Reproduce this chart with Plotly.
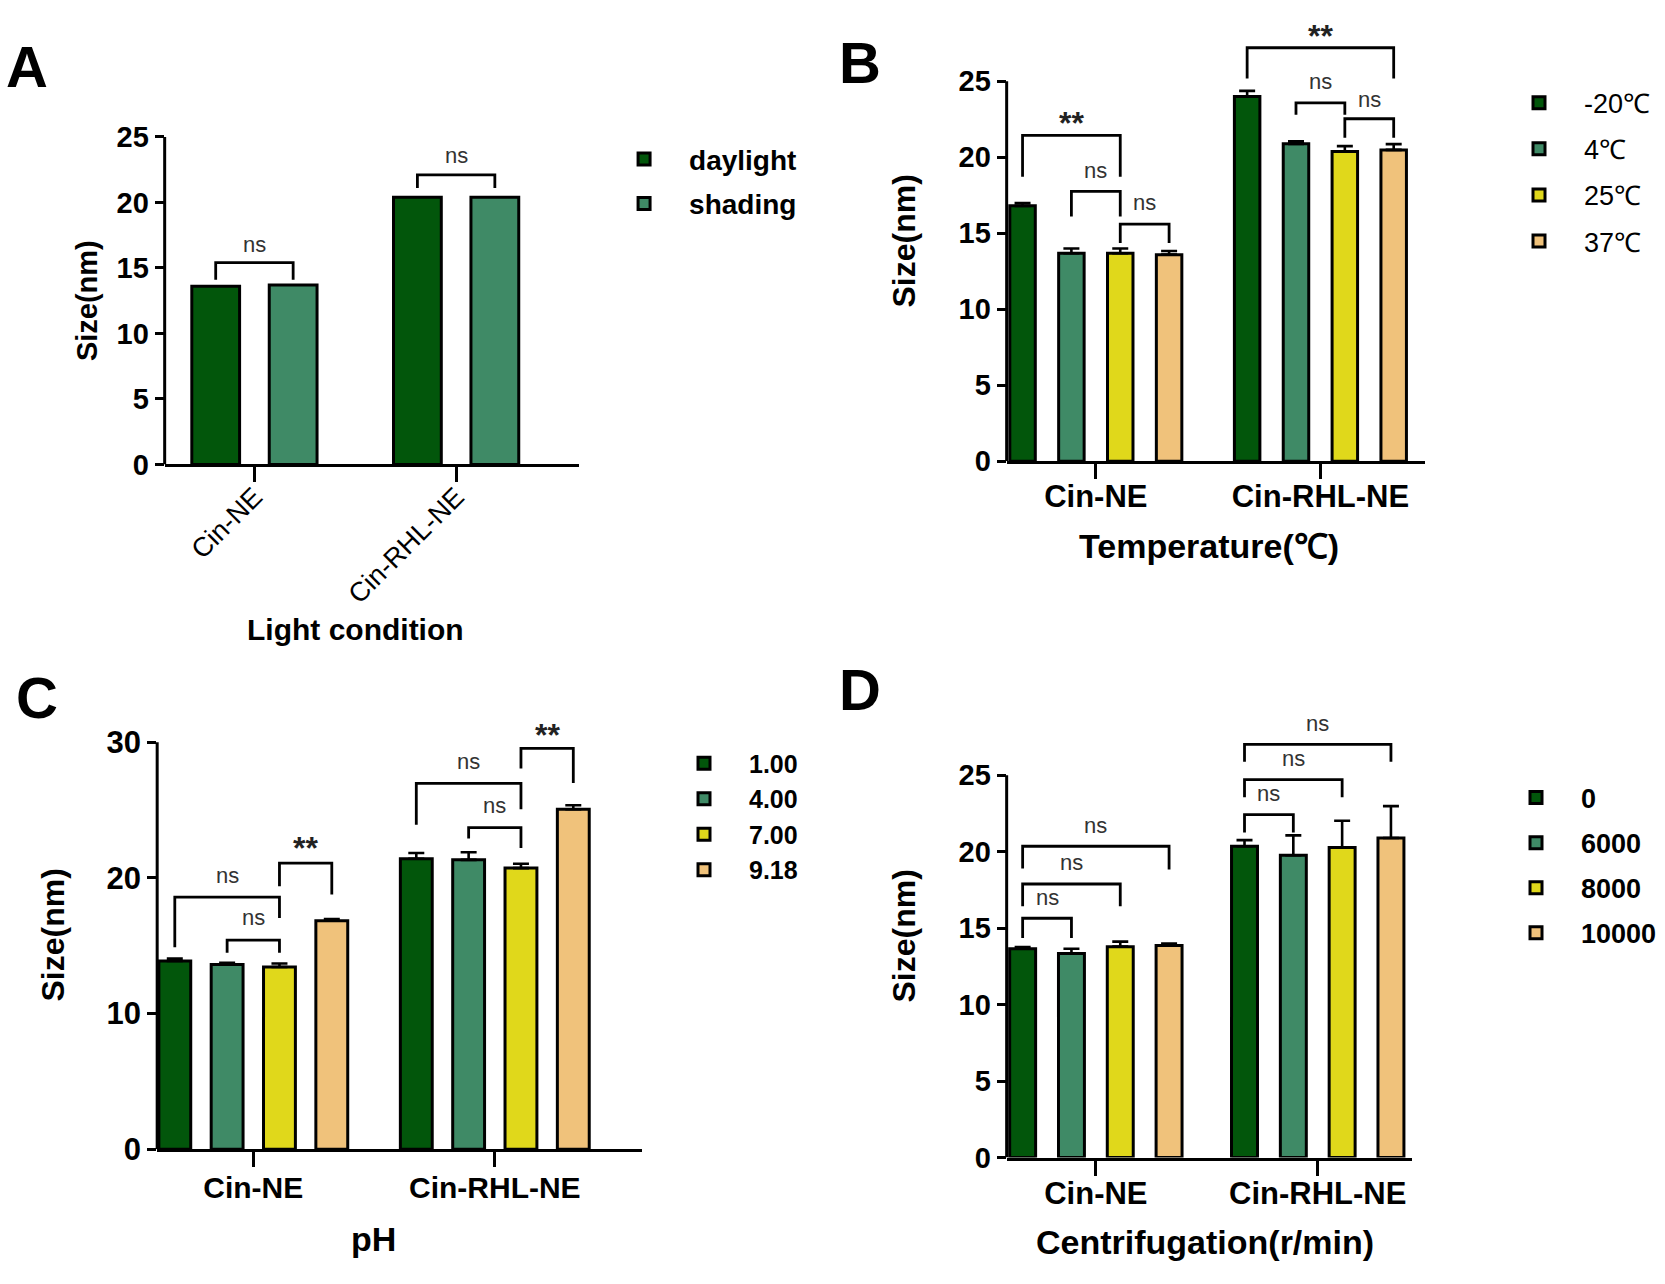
import plotly.graph_objects as go

# ---------------- data ----------------
categories = ["Cin-NE", "Cin-RHL-NE"]
colors = ["#02560B", "#3F8A66", "#E0D81B", "#F0C27B"]

a_series = ["daylight", "shading"]
a_values = [[13.6, 20.4], [13.7, 20.4]]
a_errors = [[0.0, 0.0], [0.0, 0.0]]

b_series = ["-20℃", "4℃", "25℃", "37℃"]
b_values = [[16.8, 24.0], [13.68, 20.88], [13.68, 20.37], [13.59, 20.48]]
b_errors = [[0.19, 0.36], [0.31, 0.16], [0.31, 0.36], [0.24, 0.38]]

c_series = ["1.00", "4.00", "7.00", "9.18"]
c_values = [[13.88, 21.41], [13.61, 21.33], [13.43, 20.72], [16.84, 25.06]]
c_errors = [[0.18, 0.42], [0.14, 0.56], [0.26, 0.32], [0.13, 0.29]]

d_series = ["0", "6000", "8000", "10000"]
d_values = [[13.65, 20.36], [13.35, 19.77], [13.79, 20.27], [13.87, 20.9]]
d_errors = [[0.12, 0.40], [0.30, 1.30], [0.33, 1.76], [0.13, 2.08]]

# significance brackets: (group, series_i, series_j, y_left_end, y_top, y_right_end, label, label_y)
a_brackets = [(0, 0, 1, 14.1, 15.4, 14.1, "ns", 16.8),
              (1, 0, 1, 21.1, 22.1, 21.1, "ns", 23.6)]
b_brackets = [(0, 0, 2, 18.72, 21.43, 18.72, "**", 22.7),
              (0, 1, 2, 16.1, 17.75, 16.1, "ns", 19.1),
              (0, 2, 3, 14.36, 15.6, 14.36, "ns", 17.0),
              (1, 0, 3, 25.18, 27.2, 25.18, "**", 28.4),
              (1, 1, 2, 22.8, 23.57, 22.8, "ns", 24.95),
              (1, 2, 3, 21.28, 22.53, 21.28, "ns", 23.8)]
c_brackets = [(0, 0, 2, 14.88, 18.58, 17.05, "ns", 20.2),
              (0, 1, 2, 14.49, 15.41, 14.49, "ns", 17.05),
              (0, 2, 3, 19.38, 21.09, 18.77, "**", 22.7),
              (1, 0, 2, 23.92, 26.96, 25.06, "ns", 28.6),
              (1, 1, 2, 22.9, 23.71, 22.2, "ns", 25.3),
              (1, 2, 3, 28.07, 29.55, 27.0, "**", 31.06)]
d_brackets = [(0, 0, 3, 18.9, 20.36, 18.83, "ns", 21.73),
              (0, 0, 2, 16.43, 17.89, 16.43, "ns", 19.3),
              (0, 0, 1, 14.36, 15.65, 14.36, "ns", 17.02),
              (1, 0, 3, 25.89, 27.02, 25.89, "ns", 28.4),
              (1, 0, 2, 23.56, 24.72, 23.56, "ns", 26.13),
              (1, 0, 1, 21.26, 22.43, 21.26, "ns", 23.78)]

y_ticks_25 = [0, 5, 10, 15, 20, 25]
y_ticks_30 = [0, 10, 20, 30]

# ---------------- styling ----------------
SANS = "Liberation Sans, Arial, sans-serif"
W, H = 1665, 1284
BLACK = "black"


def f(size, bold=True):
    return dict(family=SANS, size=size, color=BLACK, weight="bold" if bold else "normal")


panels = [
    dict(key="A", series=a_series, values=a_values, errors=a_errors, brackets=a_brackets,
         xdom=[0.0989, 0.3476], ydom=[0.6413, 0.9033], xrange=[-0.445, 1.608], yrange=[0, 25],
         yticks=y_ticks_25, ymax=25, slot=0.384, bw=0.237,
         xtitle="Light condition", xtitle_font=f(30), xtitle_pos=(355, 630), xlstand=-12,
         ytitle_font=f(29), ystand=10, ytick_font=f(29),
         legend=dict(x=0.3598, y=0.9053, font=f(28), gap=5),
         letter=(27, 52), xangle=-45, xfont=f(27, False), err=False),
    dict(key="B", series=b_series, values=b_values, errors=b_errors, brackets=b_brackets,
         xdom=[0.6046, 0.8559], ydom=[0.6438, 0.9965], xrange=[-0.397, 1.466], yrange=[0, 29.0],
         yticks=y_ticks_25, ymax=25, slot=0.2175, bw=0.1135,
         xtitle="Temperature(℃)", xtitle_font=f(34), xtitle_pos=(1209, 544), xlstand=-9,
         ytitle_font=f(32), ystand=33, ytick_font=f(29),
         legend=dict(x=0.8973, y=0.9499, font=f(27, False), gap=8),
         letter=(860, 48), xangle=0, xfont=f(31), err=True),
    dict(key="C", series=c_series, values=c_values, errors=c_errors, brackets=c_brackets,
         xdom=[0.0944, 0.3858], ydom=[0.0934, 0.4364], xrange=[-0.398, 1.611], yrange=[0, 31.6],
         yticks=y_ticks_30, ymax=30, slot=0.2167, bw=0.132,
         xtitle="pH", xtitle_font=f(34), xtitle_pos=(373, 1256), xlstand=-5,
         ytitle_font=f(32), ystand=32, ytick_font=f(31),
         legend=dict(x=0.3958, y=0.4205, font=f(25), gap=0),
         letter=(37, 700), xangle=0, xfont=f(30), err=True),
    dict(key="D", series=d_series, values=d_values, errors=d_errors, brackets=d_brackets,
         xdom=[0.6046, 0.8482], ydom=[0.0868, 0.4415], xrange=[-0.402, 1.426], yrange=[0, 29.0],
         yticks=y_ticks_25, ymax=25, slot=0.22, bw=0.117,
         xtitle="Centrifugation(r/min)", xtitle_font=f(34), xtitle_pos=(1205, 1259), xlstand=-9,
         ytitle_font=f(32), ystand=33, ytick_font=f(29),
         legend=dict(x=0.8955, y=0.394, font=f(27), gap=7),
         letter=(860, 692), xangle=0, xfont=f(31), err=True),
]

fig = go.Figure()
layout = dict(width=W, height=H, margin=dict(l=0, r=0, t=0, b=0),
              plot_bgcolor="white", paper_bgcolor="white", barmode="overlay",
              showlegend=True, shapes=[], annotations=[])

for p_i, p in enumerate(panels):
    sfx = "" if p_i == 0 else str(p_i + 1)
    xa, ya = "x" + sfx, "y" + sfx
    leg = "legend" + sfx
    n = len(p["series"])
    slot, bw = p["slot"], p["bw"]
    offsets = [-n * slot / 2 + i * slot + (slot - bw) / 2 for i in range(n)]
    centers = [o + bw / 2 for o in offsets]
    for i, name in enumerate(p["series"]):
        err = dict(type="data", array=p["errors"][i], arrayminus=[0] * len(categories),
                   symmetric=False, color=BLACK, thickness=2.6, width=8, visible=p["err"])
        fig.add_trace(go.Bar(
            x=list(range(len(categories))), y=p["values"][i], name=name,
            width=bw, offset=offsets[i],
            marker=dict(color=colors[i], line=dict(color=BLACK, width=3)),
            error_y=err, xaxis=xa, yaxis=ya, legend=leg, legendgroup=p["key"] + name,
            hoverinfo="y"))
    for (g, si, sj, yl, yt, yr, lab, ly) in p["brackets"]:
        x1, x2 = g + centers[si], g + centers[sj]
        fig.add_trace(go.Scatter(
            x=[x1, x1, x2, x2], y=[yl, yt, yt, yr], mode="lines",
            line=dict(color=BLACK, width=2.8), showlegend=False, hoverinfo="skip",
            xaxis=xa, yaxis=ya, cliponaxis=False))
        star = lab == "**"
        layout["annotations"].append(dict(
            x=(x1 + x2) / 2, y=ly, xref=xa, yref=ya, text=lab, showarrow=False,
            yshift=-7 if star else 0,
            font=dict(family=SANS, size=32 if star else 22, color="#222" if star else "#333",
                      weight="bold" if star else "normal"),
            xanchor="center", yanchor="middle"))
    # y axis line only up to the last tick
    layout["shapes"].append(dict(type="line", xref=xa + " domain", yref=ya, x0=0, x1=0,
                                 y0=0, y1=p["ymax"], line=dict(color=BLACK, width=3)))
    layout["xaxis" + sfx] = dict(
        domain=p["xdom"], range=p["xrange"], anchor=ya, showgrid=False, zeroline=False,
        showline=True, linecolor=BLACK, linewidth=3,
        tickvals=list(range(len(categories))), ticktext=categories,
        ticks="outside", ticklen=15, tickwidth=2.6, tickcolor=BLACK,
        tickangle=p["xangle"], tickfont=p["xfont"], ticklabelstandoff=p["xlstand"])
    layout["yaxis" + sfx] = dict(
        domain=p["ydom"], range=p["yrange"], anchor=xa, showgrid=False, zeroline=False,
        showline=False, tickvals=p["yticks"], ticks="outside", ticklen=9, tickwidth=3,
        tickcolor=BLACK, tickfont=p["ytick_font"],
        title=dict(text="Size(nm)", font=p["ytitle_font"], standoff=p["ystand"]))
    # x axis title, placed where the reference has it (slightly off-centre)
    tx, ty = p["xtitle_pos"]
    layout["annotations"].append(dict(
        x=tx / W, y=1 - ty / H, xref="paper", yref="paper", text=p["xtitle"], showarrow=False,
        font=p["xtitle_font"], xanchor="center", yanchor="middle"))
    lg = p["legend"]
    layout[leg] = dict(x=lg["x"], y=lg["y"], xanchor="left", yanchor="top",
                       font=lg["font"], bgcolor="rgba(0,0,0,0)", tracegroupgap=lg["gap"],
                       itemwidth=80, traceorder="grouped")
    lx, ly_ = p["letter"]
    layout["annotations"].append(dict(
        x=lx / W, y=1 - ly_ / H, xref="paper", yref="paper", text=p["key"], showarrow=False,
        font=f(58), xanchor="center", yanchor="middle"))

fig.update_layout(**layout)
fig.write_html(
    "out.html",
    config={"displayModeBar": False},
    post_script=("document.body.style.margin='0';"
                 "var gd=document.getElementById('{plot_id}');"
                 "gd.style.position='fixed';gd.style.top='0px';gd.style.left='0px';"),
)
